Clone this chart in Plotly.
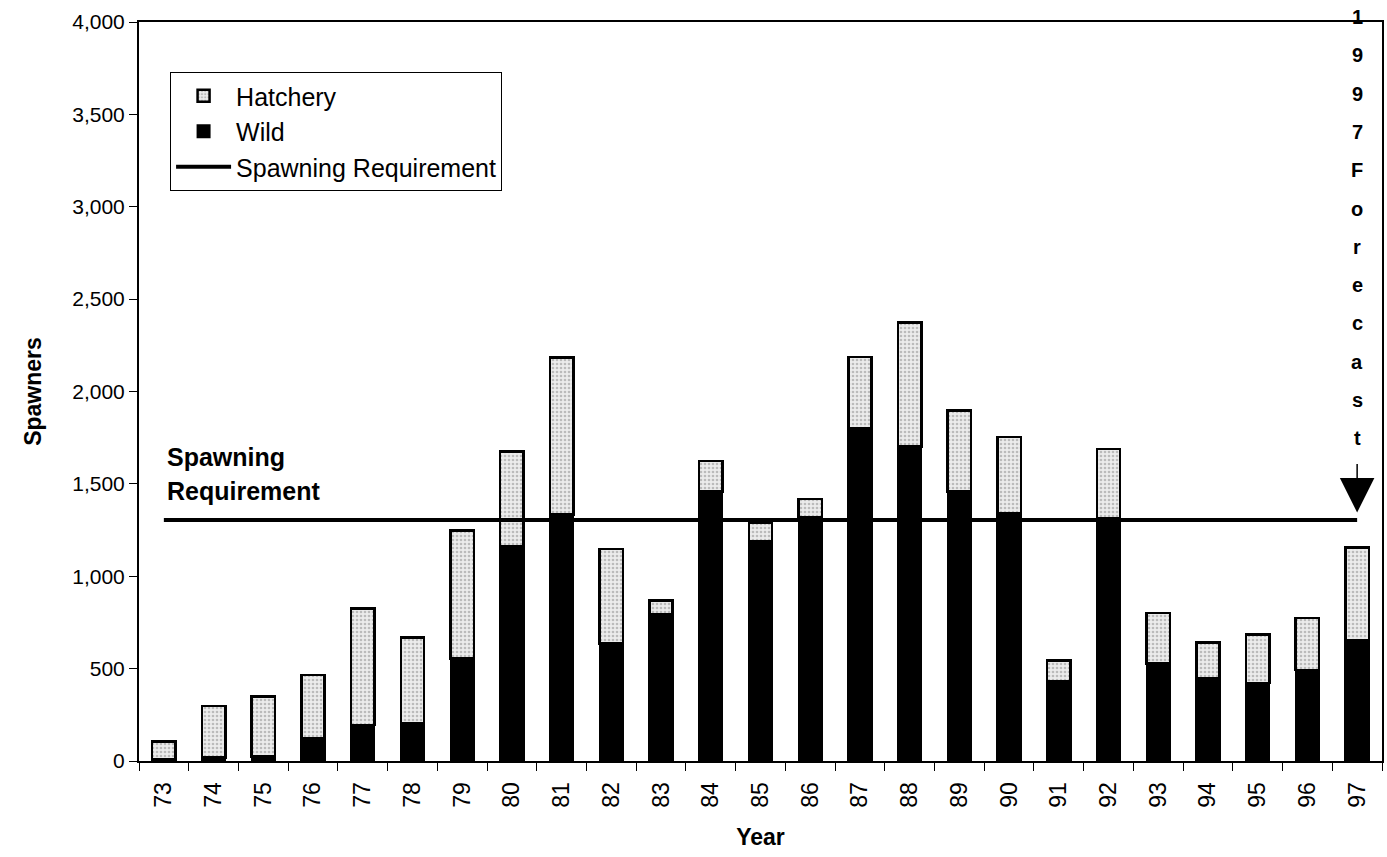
import plotly.graph_objects as go

years = ["73", "74", "75", "76", "77", "78", "79", "80", "81", "82", "83", "84", "85",
         "86", "87", "88", "89", "90", "91", "92", "93", "94", "95", "96", "97"]
wild = [10, 20, 25, 125, 195, 207, 556, 1165, 1335, 637, 796, 1459, 1188,
        1322, 1802, 1703, 1459, 1342, 430, 1315, 529, 448, 421, 493, 655]
total = [105, 298, 348, 466, 825, 668, 1248, 1676, 2183, 1147, 870, 1625, 1290,
         1419, 2187, 2373, 1896, 1753, 543, 1688, 800, 641, 686, 773, 1155]
hatchery = [t - w for t, w in zip(total, wild)]
requirement = [1305] * len(years)
forecast_letters = list("1997Forecast")

FONT = "Liberation Sans, Arial, sans-serif"
TOP, BOTTOM = 22, 761
PH = BOTTOM - TOP
FORECAST_IDX = years.index("97")  # category index of the forecast year

def py(px):
    return (BOTTOM - px) / PH

fig = go.Figure()
fig.add_trace(go.Bar(
    x=years, y=wild, name="Wild", legendrank=2, legendgroup="w",
    marker=dict(color="black", line=dict(color="black", width=2)),
))
fig.add_trace(go.Bar(
    x=years, y=hatchery, name="Hatchery", legendrank=1, legendgroup="h",
    marker=dict(color="#ececec", line=dict(color="black", width=2.5),
                pattern=dict(shape=".", fgcolor="#8a8a8a", bgcolor="#ececec",
                             size=4, solidity=0.35)),
))
fig.add_trace(go.Scatter(
    x=years, y=requirement, name="Spawning Requirement", legendrank=3, legendgroup="s",
    mode="lines", line=dict(color="black", width=4),
))

# "Spawning Requirement" label
fig.add_annotation(xref="paper", yref="paper", x=0.021, y=py(457),
                   xanchor="left", yanchor="middle", showarrow=False,
                   text="<b>Spawning</b>", font=dict(size=25, color="black", family=FONT))
fig.add_annotation(xref="paper", yref="paper", x=0.021, y=py(491),
                   xanchor="left", yanchor="middle", showarrow=False,
                   text="<b>Requirement</b>", font=dict(size=25, color="black", family=FONT))

# vertical "1997 Forecast" letters
for i, ch in enumerate(forecast_letters):
    ypx = 17 + i * 38.3
    fig.add_annotation(xref="x", yref="paper", x=FORECAST_IDX, y=py(ypx),
                       xanchor="center", yanchor="middle", showarrow=False,
                       text="<b>" + ch + "</b>",
                       font=dict(size=20, color="black", family=FONT))

# forecast arrow
fig.add_annotation(xref="x", yref="y", x=FORECAST_IDX, y=1345, ax=0, ay=-50,
                   showarrow=True, arrowhead=2, arrowsize=4.6, arrowwidth=1.5,
                   arrowcolor="black", text="")

fig.update_layout(
    width=1387, height=857,
    margin=dict(l=139, r=3, t=TOP, b=857 - BOTTOM),
    barmode="stack", bargap=0.53,
    plot_bgcolor="white", paper_bgcolor="white",
    font=dict(family=FONT, size=22, color="black"),
    legend=dict(x=0.025, y=py(72), xanchor="left", yanchor="top",
                bordercolor="black", borderwidth=1, bgcolor="white",
                font=dict(size=25, family=FONT, color="black"),
                traceorder="grouped", tracegroupgap=0, itemwidth=55),
    xaxis=dict(
        type="category", range=[-0.5, len(years) - 0.5],
        title=dict(text="<b>Year</b>", font=dict(size=23, family=FONT), standoff=22),
        tickangle=-90, showline=True, linecolor="black", linewidth=2, mirror=True,
        ticks="outside", tickson="boundaries", ticklen=8, tickcolor="black",
        ticklabelstandoff=10,
        tickfont=dict(size=23, family=FONT), showgrid=False,
    ),
    yaxis=dict(
        title=dict(text="<b>Spawners</b>", font=dict(size=23, family=FONT), standoff=24),
        range=[0, 4000], dtick=500, tickformat=",d",
        showline=True, linecolor="black", linewidth=2, mirror=True,
        ticks="outside", ticklen=8, tickcolor="black",
        tickfont=dict(size=21, family=FONT), showgrid=False, zeroline=False,
    ),
)

fig.write_html("out.html", config={"displayModeBar": False},
               post_script="document.body.style.margin='0';document.body.style.overflow='hidden';")
